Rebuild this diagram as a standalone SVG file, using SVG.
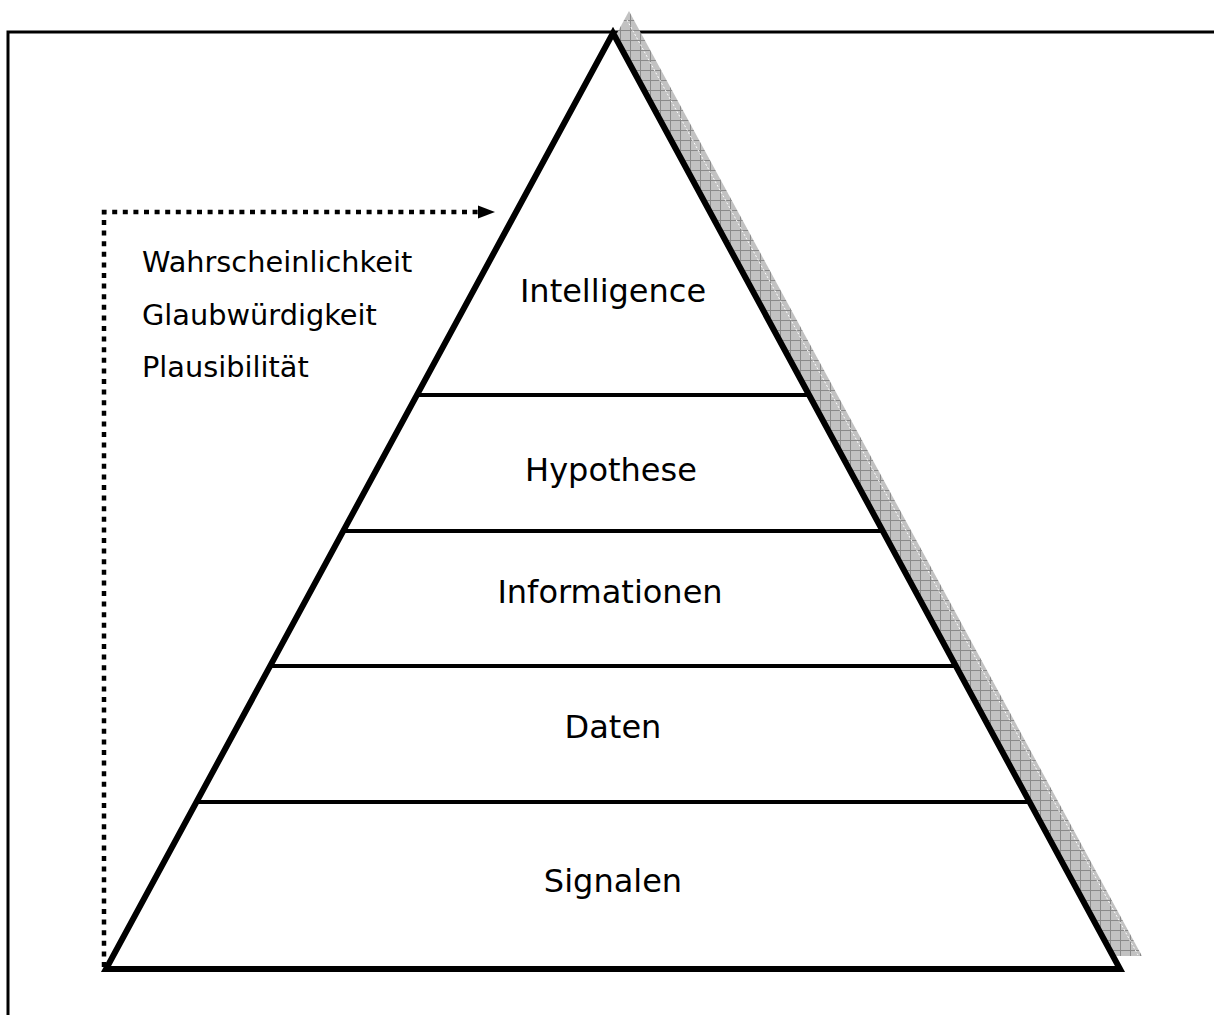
<svg xmlns="http://www.w3.org/2000/svg" width="1214" height="1015" viewBox="0 0 1214 1015">
  <style>
    .frame { fill: none; stroke: #000; stroke-width: 3; }
    .tri { fill: #fff; stroke: #000; stroke-width: 6; stroke-linejoin: miter; }
    .band { stroke: #000; stroke-width: 4; }
    .level { font-family: "DejaVu Sans", Verdana, sans-serif; font-size: 32px; fill: #000; text-anchor: middle; }
    .note { font-family: "DejaVu Sans", Verdana, sans-serif; font-size: 28.8px; fill: #000; }
    .dotted { fill: none; stroke: #000; stroke-width: 4.5; stroke-dasharray: 5 5.6; }
  </style>
  <defs>
    <pattern id="grid" width="10" height="10" patternUnits="userSpaceOnUse">
      <rect width="10" height="10" fill="#c2c2c2"/>
      <path d="M0 0.5H10M0.5 0V10" stroke="#8a8a8a" stroke-width="1"/>
    </pattern>
  </defs>

  <rect width="1214" height="1015" fill="#fff"/>

  <!-- open frame: top and left edges -->
  <path class="frame" d="M8 1015V32H1214"/>

  <!-- drop shadow behind the pyramid -->
  <g id="shadow">
    <polygon points="629,11 1142,956 117,956" fill="url(#grid)"/>
    <line x1="627" y1="20" x2="1138" y2="955" stroke="#fff" stroke-width="1" stroke-dasharray="2 2"/>
  </g>

  <!-- pyramid outline -->
  <g id="pyramid">
    <polygon class="tri" points="613,33 1120,969 106,969"/>
  </g>

  <!-- level dividers -->
  <g id="dividers">
    <line class="band" x1="416.9" y1="395" x2="809.1" y2="395"/>
    <line class="band" x1="343.2" y1="531" x2="882.8" y2="531"/>
    <line class="band" x1="270.1" y1="666" x2="955.9" y2="666"/>
    <line class="band" x1="196.4" y1="802" x2="1029.6" y2="802"/>
  </g>

  <g id="level-intelligence"><text class="level" x="613" y="302">Intelligence</text></g>
  <g id="level-hypothese"><text class="level" x="611" y="481">Hypothese</text></g>
  <g id="level-informationen"><text class="level" x="610" y="603">Informationen</text></g>
  <g id="level-daten"><text class="level" x="613" y="738">Daten</text></g>
  <g id="level-signalen"><text class="level" x="613" y="892">Signalen</text></g>

  <g id="criteria">
    <text class="note" x="142" y="272">Wahrscheinlichkeit</text>
    <text class="note" x="142" y="325">Glaubwürdigkeit</text>
    <text class="note" x="142" y="377">Plausibilität</text>
  </g>

  <!-- dotted path from the base up to the top level, ending in a solid head -->
  <g id="connectors">
    <path class="dotted" d="M104 967V212H478"/>
    <path d="M478 205.5L495 212L478 218.5Z" fill="#000"/>
  </g>
</svg>
